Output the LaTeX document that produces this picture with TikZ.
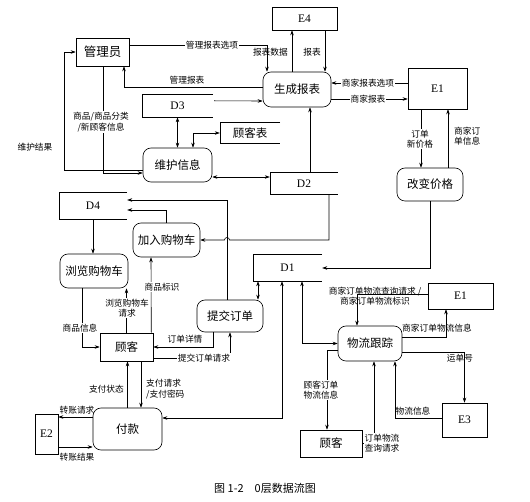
\documentclass[tikz,border=0pt]{standalone}
\usepackage{fontspec}
\setmainfont{Liberation Serif}
\newfontfamily\cjk{Noto Sans CJK SC}
\usetikzlibrary{arrows.meta}

\tikzset{
  line/.style={line width=0.6pt},
  flow/.style={line, -{Stealth[length=5pt,width=3.5pt]}},
  both/.style={line, {Stealth[length=5pt,width=3.5pt]}-{Stealth[length=5pt,width=3.5pt]}},
  sz/.style 2 args={minimum width=#1pt, minimum height=#2pt},
  proc/.style={draw, line width=0.6pt, rounded corners=8pt, inner sep=0pt,
    font=\cjk\fontsize{11.5}{13}\selectfont},
  ext/.style={draw, line width=0.6pt, inner sep=0pt, font=\fontsize{11.5}{13}\selectfont},
  store/.style={inner sep=0pt, font=\fontsize{11.5}{13}\selectfont},
  lbl/.style={font=\cjk\fontsize{8.7}{10.5}\selectfont, inner sep=1pt, align=center},
  wlbl/.style={lbl, fill=white},
}

\begin{document}
\begin{tikzpicture}[x=1pt, y=-1pt]
\useasboundingbox (0,0) rectangle (530,502);

% external entities
\node[ext, sz={53}{28}] (gly) at (102.5,52) {\cjk\fontsize{12.5}{14}\selectfont 管理员};
\node[ext, sz={65}{23}] (e4) at (304.5,18.5) {E4};
\node[ext, sz={59}{41}] (e1a) at (437.5,88.5) {E1};
\node[ext, sz={65}{26}] (e1b) at (460.5,296) {E1};
\node[ext, sz={45}{34}] (e3) at (464.5,420) {E3};
\node[ext, sz={23}{40}] (e2) at (46.5,434) {E2};
\node[ext, sz={53}{28}] (gk1) at (126.5,347) {\cjk 顾客};
\node[ext, sz={62}{27}] (gk2) at (331,443.5) {\cjk 顾客};

% processes
\node[proc, sz={68}{35}] (scbb) at (297,89.5) {生成报表};
\node[proc, sz={69}{34}] (whxx) at (177.5,165) {维护信息};
\node[proc, sz={66}{33}] (gbjg) at (430,184.5) {改变价格};
\node[proc, sz={67}{34}] (jrgwc) at (166.5,240) {加入购物车};
\node[proc, sz={68}{34}] (llgwc) at (94,271) {浏览购物车};
\node[proc, sz={66}{32}] (tjdd) at (230,316) {提交订单};
\node[proc, sz={64}{35}] (wlgz) at (370,343.5) {物流跟踪};
\node[proc, sz={69}{42}] (fk) at (127.5,429) {付款};

% data stores
\node[store, sz={71}{22}] (d3) at (177.5,106) {D3};
\node[store, sz={60}{20}] (gkb) at (250,133) {\cjk 顾客表};
\node[store, sz={68}{21}] (d2) at (304,183.5) {D2};
\node[store, sz={68}{26}] (d4) at (93,206) {D4};
\node[store, sz={69}{26}] (d1) at (287.5,268) {D1};
\foreach \s in {d3,gkb,d2,d4,d1}
  \draw[line] (\s.north east) -- (\s.north west) -- (\s.south west) -- (\s.south east);

% flows
\draw[flow] ([yshift=7pt]gly.east) -| ([xshift=-30pt]scbb.north);
\draw[flow] ([yshift=2.5pt]scbb.west) -| ([xshift=21.5pt]gly.south);
\draw[flow] ([xshift=-5pt]scbb.north) -- ([xshift=-12.5pt]e4.south);
\draw[flow] ([xshift=20.5pt]e4.south) -- ([xshift=28pt]scbb.north);
\draw[flow] ([yshift=5.5pt]e1a.west) -- ([yshift=6.5pt]scbb.east);
\draw[flow] ([yshift=-9.5pt]scbb.east) -- ([yshift=-10.5pt]e1a.west);
\draw[flow] ([xshift=-16.5pt]e1a.south) -- ([xshift=-9pt]gbjg.north);
\draw[flow] ([xshift=18pt]gbjg.north) -- ([xshift=10.5pt]e1a.south);
\draw[flow] ([shift={(1,6)}]d3.north east) -- ([yshift=-11.5pt]scbb.west);
\draw[both] (d3.south) -- (whxx.north);
\draw[both] ([xshift=15.5pt]whxx.north) |- (gkb.west);
\draw[flow] ([xshift=0.5pt]gly.south) |- ([yshift=-8pt]whxx.west);
\draw[flow] ([yshift=-5pt]whxx.west) -| (64,52) -- (gly.west);
\draw[both] ([yshift=-12pt]whxx.east) -- ([yshift=6.5pt]d2.west);
\draw[flow] ([xshift=6pt]d2.north) -- ([xshift=13pt]scbb.south);
\draw[flow] ([xshift=25pt]d2.south) |- (229.5,240)
  arc[start angle=0, end angle=-180, radius=2.5] -- (jrgwc.east);
\draw[flow] ([xshift=-3pt]tjdd.north) |- ([yshift=6pt]d4.east);
\draw[flow] (jrgwc.north) |- ([yshift=-4pt]d4.east);
\draw[flow] (d4.south) -- ([xshift=-1pt]llgwc.north);
\draw[flow] (gk1.north) -- ([xshift=32.5pt]llgwc.south);
\draw[flow] ([xshift=-12pt]llgwc.south) |- (gk1.west);
\draw[flow] ([xshift=-2pt]gk1.north east) -- ([xshift=-15.5pt]jrgwc.south);
\draw[flow] ([xshift=-17pt]tjdd.south) |- (gk1.east);
\draw[flow] ([yshift=-11pt]gk1.east) -| (tjdd.south);
\draw[both] ([xshift=28pt]tjdd.north) -- ([xshift=-29.5pt]d1.south);
\draw[flow] (gbjg.south) |- (d1.east);
\draw[both] ([xshift=-5.5pt]d1.south) |- ([yshift=11pt]fk.east);
\draw[both] ([xshift=14.5pt]d1.south) |- (wlgz.west);
\draw[flow] ([yshift=2pt]e1b.west) -| ([xshift=-13pt]wlgz.north);
\draw[flow] ([yshift=6.5pt]wlgz.east) -| ([xshift=-14.5pt]e1b.south);
\draw[flow] ([yshift=-8.5pt]wlgz.east) -| (e3.north);
\draw[flow] ([yshift=2pt]e3.west) -| ([xshift=25pt]wlgz.south);
\draw[flow] (gk2.east) -| ([xshift=4pt]wlgz.south);
\draw[flow] ([yshift=-6.5pt]wlgz.west) -| ([xshift=-4pt]gk2.north);
\draw[flow] ([yshift=12pt]fk.west) -- ([yshift=17pt]e2.east);
\draw[flow] ([yshift=-13pt]e2.east) -- ([yshift=-18pt]fk.west);
\draw[flow] (fk.north) -- ([xshift=1pt]gk1.south);
\draw[flow] ([xshift=14.5pt]gk1.south) -- ([xshift=13.5pt]fk.north);

% flow labels
\node[wlbl] (t-glbbxx) at (212,45) {管理报表选项};
\node[lbl] (t-glbb) at (187,80) {管理报表};
\node[lbl, anchor=east] (t-bbsj) at (289,52) {报表数据};
\node[lbl, anchor=east] (t-bb) at (322,52) {报表};
\node[wlbl] (t-sjbbxx) at (368,83) {商家报表选项};
\node[wlbl] (t-sjbb) at (368,99) {商家报表};
\node[wlbl] (t-ddxjg) at (420,139) {订单\\新价格};
\node[lbl, anchor=west] (t-sjddxx) at (453,136) {商家订\\单信息};
\node[wlbl] (t-spxx) at (101,122) {商品/商品分类\\/新顾客信息};
\node[lbl] (t-whjg) at (35,147) {维护结果};
\node[wlbl] (t-llqq) at (127,308) {浏览购物车\\请求};
\node[wlbl] (t-spxi) at (80,328) {商品信息};
\node[wlbl] (t-spbs) at (162,287) {商品标识};
\node[lbl] (t-ddxq) at (185,339) {订单详情};
\node[wlbl] (t-tjqq) at (204,358) {提交订单请求};
\node[lbl] (t-wlcx) at (375,296) {商家订单物流查询请求 /\\商家订单物流标识};
\node[lbl] (t-sjwl) at (437,328) {商家订单物流信息};
\node[lbl] (t-ydh) at (460,358) {运单号};
\node[lbl] (t-wlxx) at (413,411) {物流信息};
\node[wlbl] (t-ddcx) at (382,443) {订单物流\\查询请求};
\node[wlbl] (t-gkwl) at (321,390) {顾客订单\\物流信息};
\node[lbl] (t-zzqq) at (77,410) {转账请求};
\node[lbl] (t-zzjg) at (77,457) {转账结果};
\node[lbl, anchor=east] (t-zfzt) at (125,389) {支付状态};
\node[lbl, anchor=west, align=left] (t-zfqq) at (145,389) {支付请求\\/支付密码};

\node[font=\cjk\fontsize{11}{13}\selectfont] (caption) at (265,488) {图 1-2\quad 0层数据流图};
\end{tikzpicture}
\end{document}
